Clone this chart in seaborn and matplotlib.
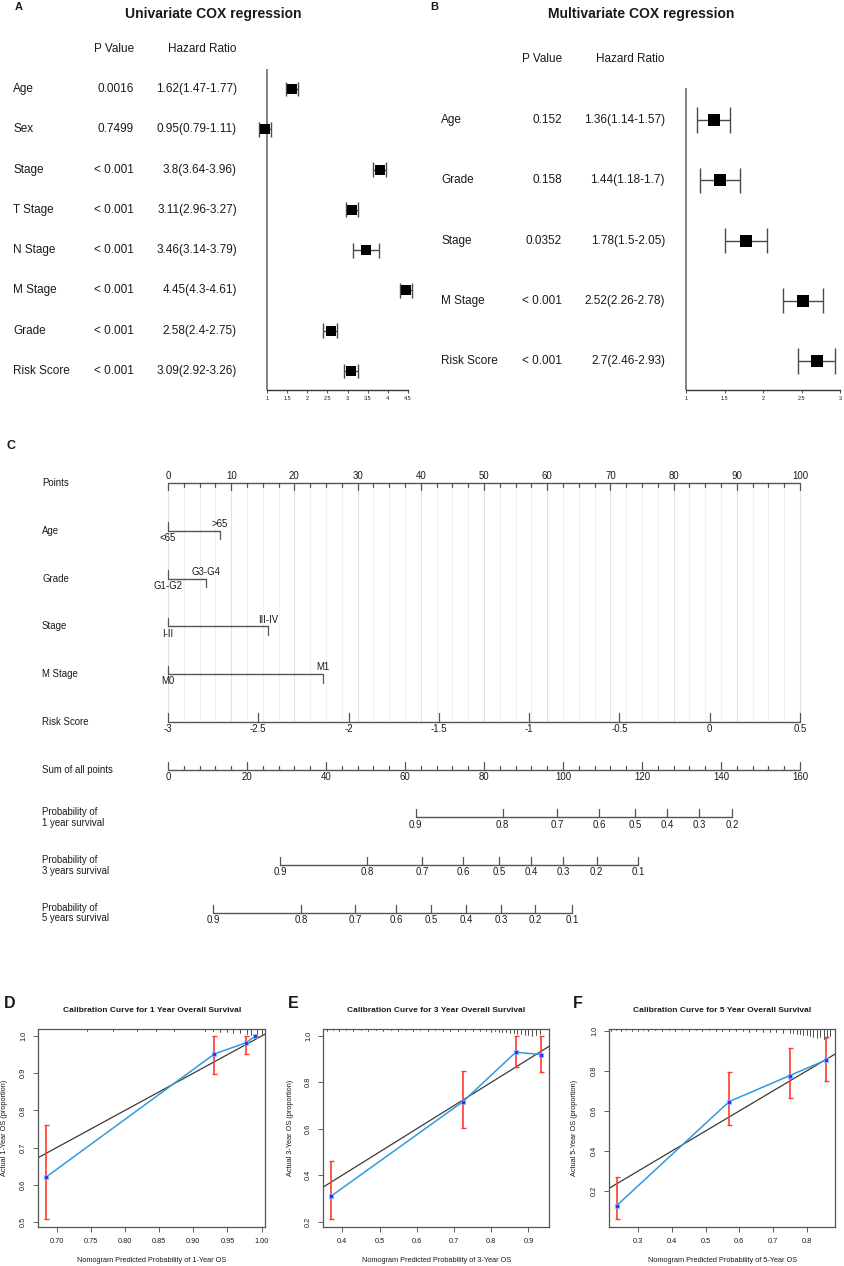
import numpy as np
import pandas as pd
import seaborn as sns
import matplotlib.pyplot as plt
from matplotlib.transforms import blended_transform_factory

sns.set_style('white')
plt.rcParams['font.family'] = ['Liberation Sans', 'DejaVu Sans']

# ---------------- data ----------------
# A: univariate Cox
uni_vars = ['Age', 'Sex', 'Stage', 'T Stage', 'N Stage', 'M Stage', 'Grade', 'Risk Score']
uni_p = ['0.0016', '0.7499', '< 0.001', '< 0.001', '< 0.001', '< 0.001', '< 0.001', '< 0.001']
uni_hr = [1.62, 0.95, 3.8, 3.11, 3.46, 4.45, 2.58, 3.09]
uni_lo = [1.47, 0.79, 3.64, 2.96, 3.14, 4.3, 2.4, 2.92]
uni_hi = [1.77, 1.11, 3.96, 3.27, 3.79, 4.61, 2.75, 3.26]
uni_ticks = [1, 1.5, 2, 2.5, 3, 3.5, 4, 4.5]

# B: multivariate Cox
multi_vars = ['Age', 'Grade', 'Stage', 'M Stage', 'Risk Score']
multi_p = ['0.152', '0.158', '0.0352', '< 0.001', '< 0.001']
multi_hr = [1.36, 1.44, 1.78, 2.52, 2.7]
multi_lo = [1.14, 1.18, 1.5, 2.26, 2.46]
multi_hi = [1.57, 1.7, 2.05, 2.78, 2.93]
multi_ticks = [1, 1.5, 2, 2.5, 3]

# C: nomogram
nomo_rows = ['Points', 'Age', 'Grade', 'Stage', 'M Stage', 'Risk Score', 'Sum of all points',
             'Probability of\n1 year survival', 'Probability of\n3 years survival',
             'Probability of\n5 years survival']
age_levels, age_pts = ['<65', '>65'], [0, 8.2]
grade_levels, grade_pts = ['G1-G2', 'G3-G4'], [0, 6.0]
stage_levels, stage_pts = ['I-II', 'III-IV'], [0, 15.8]
mstage_levels, mstage_pts = ['M0', 'M1'], [0, 24.5]
risk_ticks = [-3, -2.5, -2, -1.5, -1, -0.5, 0, 0.5]
total_max = 160
surv1_prob = [0.9, 0.8, 0.7, 0.6, 0.5, 0.4, 0.3, 0.2]
surv1_total = [62.7, 84.7, 98.5, 109.1, 118.2, 126.4, 134.4, 142.9]
surv3_prob = [0.9, 0.8, 0.7, 0.6, 0.5, 0.4, 0.3, 0.2, 0.1]
surv3_total = [28.4, 50.4, 64.4, 74.7, 83.8, 91.9, 100.1, 108.5, 119.0]
surv5_prob = [0.9, 0.8, 0.7, 0.6, 0.5, 0.4, 0.3, 0.2, 0.1]
surv5_total = [11.4, 33.7, 47.3, 57.7, 66.6, 75.4, 84.3, 92.9, 102.3]

# D-F: calibration
cal1_pred = [0.684, 0.931, 0.977, 0.991]
cal1_obs = [0.62, 0.952, 0.982, 1.0]
cal1_lo = [0.507, 0.898, 0.952, 1.0]
cal1_hi = [0.76, 1.0, 1.0, 1.0]
cal1_rug = [(0.744, 1.5), (0.783, 1.5), (0.817, 1.5), (0.846, 1.5), (0.871, 1.5), (0.917, 2),
            (0.929, 2), (0.939, 2.5), (0.949, 3), (0.958, 3.5), (0.968, 4), (0.978, 5),
            (0.985, 6), (0.993, 6), (1.0, 5)]

cal3_pred = [0.371, 0.724, 0.866, 0.934]
cal3_obs = [0.311, 0.717, 0.93, 0.92]
cal3_lo = [0.212, 0.605, 0.868, 0.845]
cal3_hi = [0.46, 0.851, 1.0, 1.0]
cal3_rug = [(0.36, 1.5), (0.375, 1), (0.39, 1.5), (0.41, 1), (0.43, 1.5), (0.45, 1), (0.47, 1.5),
            (0.49, 1), (0.51, 1.5), (0.53, 1), (0.55, 1.5), (0.57, 1), (0.59, 1.5), (0.61, 1),
            (0.63, 1.5), (0.65, 1), (0.67, 1.5), (0.69, 1.5), (0.71, 1.5), (0.73, 2), (0.75, 1.5),
            (0.77, 2), (0.785, 2), (0.80, 2.5), (0.81, 2), (0.82, 3), (0.83, 2.5), (0.84, 3),
            (0.85, 3.5), (0.86, 4), (0.87, 4.5), (0.88, 5), (0.89, 6), (0.90, 6), (0.91, 7),
            (0.92, 6), (0.93, 5)]

cal5_pred = [0.236, 0.570, 0.75, 0.858]
cal5_obs = [0.127, 0.647, 0.777, 0.855]
cal5_lo = [0.06, 0.53, 0.664, 0.752]
cal5_hi = [0.272, 0.797, 0.914, 0.972]
cal5_rug = [(0.22, 1.5), (0.235, 1), (0.25, 1.5), (0.265, 1), (0.28, 2), (0.30, 1.5), (0.315, 1),
            (0.33, 1.5), (0.35, 1), (0.37, 1.5), (0.39, 1), (0.41, 1.5), (0.43, 1), (0.45, 1.5),
            (0.47, 1), (0.49, 1.5), (0.51, 1), (0.53, 1.5), (0.55, 1.5), (0.57, 2), (0.59, 1.5),
            (0.61, 2), (0.63, 2.5), (0.65, 2), (0.67, 3), (0.69, 2.5), (0.71, 3), (0.73, 3.5),
            (0.75, 4), (0.76, 3.5), (0.77, 5), (0.78, 4.5), (0.79, 6), (0.80, 5.5), (0.81, 7),
            (0.82, 8), (0.83, 9), (0.84, 8), (0.85, 10), (0.86, 9), (0.87, 7)]

# ---------------- figure ----------------
W, H = 844, 1266
fig = plt.figure(figsize=(W / 100, H / 100), dpi=100)
TXT = '#1a1a1a'
LINE = '#555555'


def box(l, t, r, b):
    return [l / W, 1 - b / H, (r - l) / W, (b - t) / H]


def ftext(x, y, s, **kw):
    kw.setdefault('color', TXT)
    fig.text(x / W, 1 - y / H, s, **kw)


def forest(ax_px, xlim, ylim, names, pvals, hr, lo, hi, ticks, cols, sq, cap):
    ax = fig.add_axes(box(*ax_px))
    df = pd.DataFrame({'hr': hr, 'lo': lo, 'hi': hi, 'row': np.arange(len(names))})
    ax.axvline(1, color='#7a7a7a', lw=1.3, zorder=1)
    ax.hlines(df['row'], df['lo'], df['hi'], color='#4a4a4a', lw=1)
    ax.vlines(df['lo'], df['row'] - cap, df['row'] + cap, color='#4a4a4a', lw=1)
    ax.vlines(df['hi'], df['row'] - cap, df['row'] + cap, color='#4a4a4a', lw=1)
    sns.scatterplot(data=df, x='hr', y='row', marker='s', s=sq, color='black',
                    linewidth=0, legend=False, zorder=4, ax=ax)
    ax.set_xlim(*xlim)
    ax.set_ylim(*ylim)
    ax.set_xlabel('')
    ax.set_ylabel('')
    ax.set_yticks([])
    for s in ['top', 'right', 'left']:
        ax.spines[s].set_visible(False)
    ax.spines['bottom'].set_bounds(ticks[0], ticks[-1])
    ax.spines['bottom'].set_color('#333333')
    ax.spines['bottom'].set_linewidth(1)
    ax.set_xticks(ticks)
    ax.set_xticklabels([f'{t:g}' for t in ticks])
    ax.tick_params(axis='x', bottom=True, length=2.5, width=0.6, labelsize=4, pad=2,
                   color='#333333', labelcolor=TXT)
    ax.patch.set_alpha(0)
    tr = blended_transform_factory(fig.transFigure, ax.transData)
    for r, n, p, h, l, u in zip(df['row'], names, pvals, hr, lo, hi):
        ax.text(cols[0] / W, r, n, transform=tr, ha='left', va='center', fontsize=8.5, color=TXT)
        ax.text(cols[1] / W, r, p, transform=tr, ha='right', va='center', fontsize=8.5, color=TXT)
        ax.text(cols[2] / W, r, f'{h:g}({l:g}-{u:g})', transform=tr, ha='right', va='center',
                fontsize=8.5, color=TXT)
    return ax


# ---- A ----
forest((250, 69, 415, 390), (1 - 17 / 40.3, 4.5 + 7 / 40.3), (7 + 19 / 40.3, -20 / 40.3),
       uni_vars, uni_p, uni_hr, uni_lo, uni_hi, uni_ticks, (13, 134, 237), 55, 0.186)
ftext(19, 7, 'A', fontsize=8, fontweight='bold', ha='center', va='center')
ftext(213, 14, 'Univariate COX regression', fontsize=10, fontweight='bold', ha='center', va='center')
ftext(134, 49, 'P Value', fontsize=8.5, ha='right', va='center')
ftext(237, 49, 'Hazard Ratio', fontsize=8.5, ha='right', va='center')

# ---- B ----
forest((680, 88, 844, 390), (1 - 6 / 77, 3 + 4 / 77), (4 + 29 / 60.2, -32 / 60.2),
       multi_vars, multi_p, multi_hr, multi_lo, multi_hi, multi_ticks, (441, 562, 665), 82, 0.208)
ftext(434, 7, 'B', fontsize=8, fontweight='bold', ha='center', va='center')
ftext(641, 14, 'Multivariate COX regression', fontsize=10, fontweight='bold', ha='center', va='center')
ftext(562, 59, 'P Value', fontsize=8.5, ha='right', va='center')
ftext(665, 59, 'Hazard Ratio', fontsize=8.5, ha='right', va='center')

# ---- C: nomogram ----
ftext(11, 446, 'C', fontsize=9, fontweight='bold', ha='center', va='center')
axn = fig.add_axes(box(0, 440, W, 950))
pp = 632 / 100          # pixels per point
rp = 47.8               # pixels per row
axn.set_xlim(-168 / pp, 100 + (W - 800) / pp)
axn.set_ylim(9 + (950 - 913) / rp, -(483 - 440) / rp)
axn.axis('off')


def dv(px):
    return px / rp


NFS = 6.9
for g in np.arange(0, 100.01, 2.5):
    col = '#e2e2e2' if g % 10 == 0 else '#f0f0f0'
    axn.plot([g, g], [0, 5], color=col, lw=0.8, zorder=0)

for i, name in enumerate(nomo_rows):
    axn.text(-126 / pp, i, name, ha='left', va='center', fontsize=NFS, color=TXT, linespacing=1.1)


def lab(x, row, s, above):
    axn.annotate(s, (x, row), xytext=(0, 1.3 if above else -1.6), textcoords='offset points',
                 ha='center', va='bottom' if above else 'top', fontsize=NFS, color=TXT)


# Points
axn.plot([0, 100], [0, 0], color=LINE, lw=1)
for t in np.arange(0, 100.01, 2.5):
    major = t % 10 == 0
    axn.plot([t, t], [0, dv(7.5 if major else 4)], color=LINE, lw=0.9)
    if major:
        lab(t, 0, f'{t:g}', True)

# categorical rows
for row, pts, levels in [(1, age_pts, age_levels), (2, grade_pts, grade_levels),
                         (3, stage_pts, stage_levels), (4, mstage_pts, mstage_levels)]:
    axn.plot([pts[0], pts[-1]], [row, row], color=LINE, lw=1)
    axn.plot([pts[0], pts[0]], [row - dv(8.5), row], color=LINE, lw=0.9)
    axn.plot([pts[-1], pts[-1]], [row, row + dv(8.5)], color=LINE, lw=0.9)
    lab(pts[0], row, levels[0], False)
    lab(pts[-1], row, levels[-1], True)

# Risk score
risk_pts = [(r - risk_ticks[0]) / (risk_ticks[-1] - risk_ticks[0]) * 100 for r in risk_ticks]
axn.plot([0, 100], [5, 5], color=LINE, lw=1)
for p, r in zip(risk_pts, risk_ticks):
    axn.plot([p, p], [5 - dv(9), 5], color=LINE, lw=0.9)
    lab(p, 5, f'{r:g}', False)

# Sum of all points
axn.plot([0, 100], [6, 6], color=LINE, lw=1)
for t in range(0, total_max + 1, 4):
    p = t / total_max * 100
    major = t % 20 == 0
    axn.plot([p, p], [6 - dv(8 if major else 4), 6], color=LINE, lw=0.9)
    if major:
        lab(p, 6, f'{t}', False)

# survival probabilities
for row, probs, totals in [(7, surv1_prob, surv1_total), (8, surv3_prob, surv3_total),
                           (9, surv5_prob, surv5_total)]:
    xs = [t / total_max * 100 for t in totals]
    axn.plot([xs[0], xs[-1]], [row, row], color=LINE, lw=1)
    for x, pr in zip(xs, probs):
        axn.plot([x, x], [row - dv(8), row], color=LINE, lw=0.9)
        lab(x, row, f'{pr:g}', False)


# ---- D-F: calibration ----
def calib(ax_px, pred, obs, lo, hi, rug, xlim, ylim, xticks, xfmt, yticks, yfmt,
          n, letter_x, ylab_x):
    l, t, r, b = ax_px
    ax = fig.add_axes(box(*ax_px))
    df = pd.DataFrame({'pred': pred, 'obs': obs})
    ax.axline((0, 0), (1, 1), color='#3a3a3a', lw=0.9, zorder=2)
    sns.lineplot(data=df, x='pred', y='obs', sort=False, estimator=None, color='#3399dd',
                 lw=1.1, ax=ax, zorder=3)
    obs_a, lo_a, hi_a = np.array(obs), np.array(lo), np.array(hi)
    ax.errorbar(pred, obs, yerr=[obs_a - lo_a, hi_a - obs_a], fmt='none', ecolor='#ff3b30',
                elinewidth=1.2, capsize=1.8, capthick=1.0, zorder=4)
    sns.scatterplot(data=df, x='pred', y='obs', marker='s', s=12, color='#1f3dff',
                    edgecolor='#8fb4ff', linewidth=0.5, legend=False, zorder=5, ax=ax)
    rtr = blended_transform_factory(ax.transData, ax.transAxes)
    hpx = b - t
    for x, h in rug:
        ax.plot([x, x], [1 - h / hpx, 1], color='#333333', lw=0.6, transform=rtr, clip_on=False)
    ax.set_xlim(*xlim)
    ax.set_ylim(*ylim)
    ax.set_xlabel('')
    ax.set_ylabel('')
    ax.set_xticks(xticks)
    ax.set_xticklabels([xfmt.format(v) for v in xticks])
    ax.set_yticks(yticks)
    ax.set_yticklabels([yfmt.format(v) for v in yticks], rotation=90, va='center')
    ax.tick_params(axis='both', length=3.5, width=0.6, color='#444444', labelsize=5.3,
                   labelcolor=TXT, bottom=True, left=True, pad=4.5)
    for s in ax.spines.values():
        s.set_color('#555555')
        s.set_linewidth(0.9)
    cx = (l + r) / 2
    ftext(letter_x, 1003, 'DEF'[n], fontsize=11.5, fontweight='bold', ha='center', va='center')
    yr = [1, 3, 5][n]
    ftext(cx, 1010, f'Calibration Curve for {yr} Year Overall Survival', fontsize=6,
          fontweight='bold', ha='center', va='center')
    ftext(cx, 1260, f'Nomogram Predicted Probability of {yr}-Year OS', fontsize=5.3,
          ha='center', va='center')
    ftext(ylab_x, (t + b) / 2, f'Actual {yr}-Year OS (proportion)', fontsize=5.3,
          ha='center', va='center', rotation=90)


calib((38.3, 1029, 265, 1226.7), cal1_pred, cal1_obs, cal1_lo, cal1_hi, cal1_rug,
      (0.673, 1.005), (0.487, 1.019), [0.70, 0.75, 0.80, 0.85, 0.90, 0.95, 1.00], '{:.2f}',
      [0.5, 0.6, 0.7, 0.8, 0.9, 1.0], '{:.1f}', 0, 10, 5)
calib((323.3, 1029, 549.3, 1226.7), cal3_pred, cal3_obs, cal3_lo, cal3_hi, cal3_rug,
      (0.349, 0.956), (0.178, 1.03), [0.4, 0.5, 0.6, 0.7, 0.8, 0.9], '{:.1f}',
      [0.2, 0.4, 0.6, 0.8, 1.0], '{:.1f}', 1, 293, 291)
calib((609.3, 1029.3, 835, 1226.7), cal5_pred, cal5_obs, cal5_lo, cal5_hi, cal5_rug,
      (0.214, 0.884), (0.0215, 1.008), [0.3, 0.4, 0.5, 0.6, 0.7, 0.8], '{:.1f}',
      [0.2, 0.4, 0.6, 0.8, 1.0], '{:.1f}', 2, 578, 575)

fig.savefig('out.png', dpi=100)
